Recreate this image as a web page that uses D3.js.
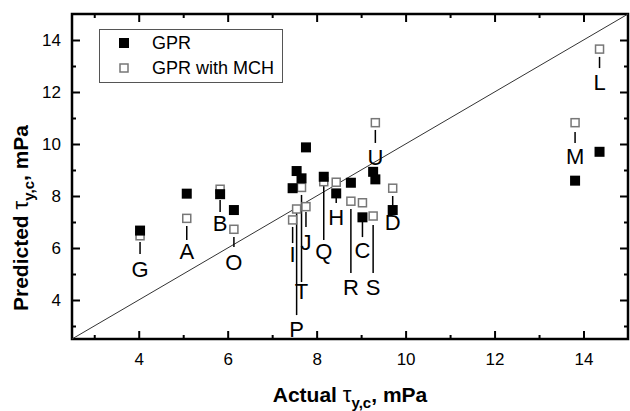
<!DOCTYPE html>
<html>
<head>
<meta charset="utf-8">
<script src="https://cdn.jsdelivr.net/npm/d3@7"></script>
<style>
  html, body { margin: 0; padding: 0; background: #fff; }
  svg { display: block; font-family: "Liberation Sans", Arial, sans-serif; }
</style>
</head>
<body>
<svg id="chart" width="630" height="411"></svg>
<script>
// Samples, actual yield stress and the two model predictions (mPa)
const samples = ["G", "A", "B", "O", "I", "P", "T", "J", "Q", "H", "R", "C", "S", "U", "D", "M", "L"];
const actual  = [4.03, 5.08, 5.83, 6.14, 7.46, 7.55, 7.66, 7.76, 8.16, 8.44, 8.77, 9.03, 9.27, 9.32, 9.71, 13.81, 14.36];
const gpr     = [6.67, 8.09, 8.07, 7.46, 8.30, 8.96, 8.68, 9.87, 8.74, 8.10, 8.51, 7.18, 8.93, 8.64, 7.46, 8.59, 9.70];
const gprMch  = [6.47, 7.14, 8.26, 6.72, 7.08, 7.50, 8.33, 7.59, 8.55, 8.53, 7.80, 7.74, 7.23, 10.82, 8.30, 10.82, 13.65];

// Sample label annotations (in axis units): leader line span and text baseline
const leaderTop     = [6.23, 6.85, 7.85, 6.42, 6.81, 7.35, 8.04, 7.38, 8.42, 7.92, 7.50, 7.00, 6.88, 10.54, 8.00, 10.46, 13.35];
const leaderBottom  = [5.77, 6.31, 7.38, 6.04, 6.19, 3.42, 4.69, 6.81, 6.31, 7.73, 5.04, 6.42, 5.04, 10.04, 7.58, 10.04, 12.92];
const labelBaseline = [4.88, 5.58, 6.65, 5.15, 5.46, 2.58, 4.04, 5.92, 5.58, 6.88, 4.19, 5.62, 4.19, 9.19, 6.69, 9.23, 12.08];

const axisDomain = [2.5, 15];
const majorTicks = [4, 6, 8, 10, 12, 14];
const minorTicks = [3, 5, 7, 9, 11, 13];
const legendLabels = ["GPR", "GPR with MCH"];

const svg = d3.select("#chart");
const plot = { left: 72, right: 628, top: 14, bottom: 339 };

const x = d3.scaleLinear().domain(axisDomain).range([plot.left, plot.right]);
const y = d3.scaleLinear().domain(axisDomain).range([plot.bottom, plot.top]);

// Axes with inward ticks on all four sides
function styleAxis(g) {
  g.select(".domain").remove();
  g.selectAll(".tick line").attr("stroke", "#000").attr("stroke-width", 2);
  g.selectAll("text").attr("font-size", 17).attr("fill", "#000")
    .attr("font-family", "Liberation Sans, Arial, sans-serif");
}
function addAxis(axisFn, scale, transform, ticks, size, labels) {
  const a = axisFn(scale).tickValues(ticks).tickSize(-size).tickPadding(labels ? 10 : 0);
  if (!labels) a.tickFormat("");
  const g = svg.append("g").attr("transform", transform).call(a);
  styleAxis(g);
  return g;
}
// bottom
addAxis(d3.axisBottom, x, `translate(0,${plot.bottom})`, majorTicks, 8, true)
  .selectAll("text").attr("dy", "0.71em").attr("y", 14);
addAxis(d3.axisBottom, x, `translate(0,${plot.bottom})`, minorTicks, 4, false);
// top
addAxis(d3.axisTop, x, `translate(0,${plot.top})`, majorTicks, 8, false);
addAxis(d3.axisTop, x, `translate(0,${plot.top})`, minorTicks, 4, false);
// left
addAxis(d3.axisLeft, y, `translate(${plot.left},0)`, majorTicks, 8, true)
  .selectAll("text").attr("x", -11);
addAxis(d3.axisLeft, y, `translate(${plot.left},0)`, minorTicks, 4, false);
// right
addAxis(d3.axisRight, y, `translate(${plot.right},0)`, majorTicks, 8, false);
addAxis(d3.axisRight, y, `translate(${plot.right},0)`, minorTicks, 4, false);

// Plot frame
svg.append("rect")
  .attr("x", plot.left).attr("y", plot.top)
  .attr("width", plot.right - plot.left).attr("height", plot.bottom - plot.top)
  .attr("fill", "none").attr("stroke", "#000").attr("stroke-width", 2.5);

// Parity line y = x
svg.append("line")
  .attr("x1", x(axisDomain[0])).attr("y1", y(axisDomain[0]))
  .attr("x2", x(axisDomain[1])).attr("y2", y(axisDomain[1]))
  .attr("stroke", "#333").attr("stroke-width", 1);

const idx = d3.range(samples.length);

// Leader lines for the sample labels
svg.append("g").selectAll("line").data(idx).join("line")
  .attr("x1", i => x(actual[i])).attr("x2", i => x(actual[i]))
  .attr("y1", i => y(leaderTop[i])).attr("y2", i => y(leaderBottom[i]))
  .attr("stroke", "#000").attr("stroke-width", 1.5);

// Open markers: GPR with MCH
const openSize = 8;
svg.append("g").selectAll("rect").data(idx).join("rect")
  .attr("x", i => x(actual[i]) - openSize / 2)
  .attr("y", i => y(gprMch[i]) - openSize / 2)
  .attr("width", openSize).attr("height", openSize)
  .attr("fill", "#fff").attr("stroke", "#777").attr("stroke-width", 1.5);

// Filled markers: GPR
const fillSize = 10;
svg.append("g").selectAll("rect").data(idx).join("rect")
  .attr("x", i => x(actual[i]) - fillSize / 2)
  .attr("y", i => y(gpr[i]) - fillSize / 2)
  .attr("width", fillSize).attr("height", fillSize)
  .attr("fill", "#000");

// Sample letters
svg.append("g").selectAll("text").data(idx).join("text")
  .attr("x", i => x(actual[i])).attr("y", i => y(labelBaseline[i]))
  .attr("text-anchor", "middle").attr("font-size", 22).attr("fill", "#000")
  .text(i => samples[i]);

// Legend
const legend = svg.append("g");
legend.append("rect").attr("x", 99.5).attr("y", 29.5).attr("width", 183).attr("height", 53)
  .attr("fill", "#fff").attr("stroke", "#555").attr("stroke-width", 1);
legend.append("rect").attr("x", 124 - fillSize / 2).attr("y", 43 - fillSize / 2)
  .attr("width", fillSize).attr("height", fillSize).attr("fill", "#000");
legend.append("rect").attr("x", 124 - openSize / 2).attr("y", 68 - openSize / 2)
  .attr("width", openSize).attr("height", openSize)
  .attr("fill", "#fff").attr("stroke", "#777").attr("stroke-width", 1.5);
legend.selectAll("text.lg").data(legendLabels).join("text")
  .attr("class", "lg")
  .attr("x", 152).attr("y", (d, i) => 43 + i * 25)
  .attr("dy", "0.36em").attr("font-size", 18).attr("fill", "#000")
  .text(d => d);

// Axis titles
function titleParts(t, main) {
  t.append("tspan").text(main + " ");
  t.append("tspan").attr("font-weight", "normal").attr("font-size", 22).text("τ");
  t.append("tspan").attr("font-size", 15).attr("dy", 6).text("y,c");
  t.append("tspan").attr("dy", -6).text(", mPa");
}
const xTitle = svg.append("text")
  .attr("x", 350).attr("y", 402).attr("text-anchor", "middle")
  .attr("font-size", 21).attr("font-weight", "bold").attr("fill", "#000");
titleParts(xTitle, "Actual");

const yTitle = svg.append("text")
  .attr("transform", "translate(28,218) rotate(-90)").attr("text-anchor", "middle")
  .attr("font-size", 21).attr("font-weight", "bold").attr("fill", "#000");
titleParts(yTitle, "Predicted");
</script>
</body>
</html>
